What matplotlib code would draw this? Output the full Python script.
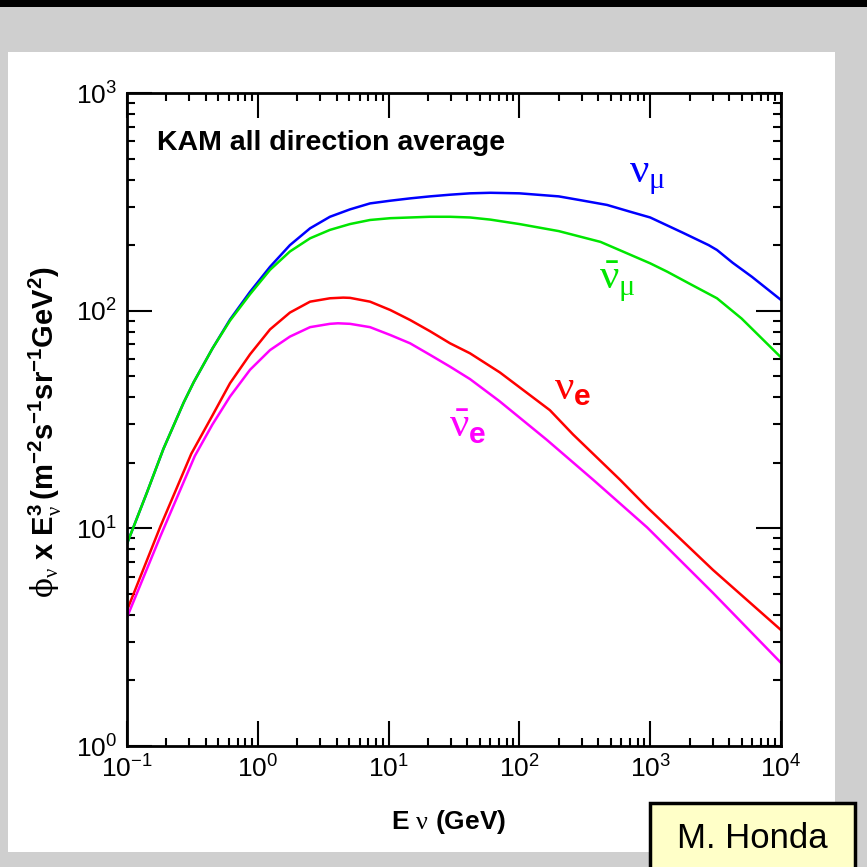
"""
Flujo de neutrinos atmosféricos (KAM, promedio en todas direcciones) - M. Honda
"""
#-->Importar librerías
import math
import matplotlib
matplotlib.use("Agg")
import matplotlib.pyplot as plt
from matplotlib.patches import Rectangle
from matplotlib.ticker import LogLocator, FuncFormatter, NullFormatter

#-->Fuentes
plt.rcParams["font.family"] = ["Liberation Sans", "DejaVu Sans"]
plt.rcParams["mathtext.fontset"] = "custom"
plt.rcParams["mathtext.rm"] = "Liberation Sans"
plt.rcParams["mathtext.it"] = "Liberation Sans:italic"
plt.rcParams["mathtext.bf"] = "Liberation Sans:bold"
plt.rcParams["mathtext.sf"] = "Liberation Serif"
plt.rcParams["mathtext.tt"] = "DejaVu Serif"

#-->Datos (E en GeV, flujo x E^3)
e_numu = [0.1, 0.142, 0.19, 0.271, 0.324, 0.45, 0.613, 0.872, 1.24, 1.76, 2.51,
          3.56, 5.07, 7.21, 10.3, 14.6, 20.7, 29.5, 41.9, 60, 100, 200, 300, 468,
          700, 1000, 1778, 2800, 3240, 4270, 6000, 10000]
flux_numu = [8.5, 14.6, 23.2, 37.8, 47, 67, 91, 122, 159, 200, 239,
             270, 292, 311, 320, 328, 335, 341, 346, 348, 346, 335, 321, 306,
             285, 268, 228, 200, 190, 166, 143, 112]

e_numubar = [0.1, 0.142, 0.19, 0.271, 0.324, 0.45, 0.613, 0.872, 1.24, 1.76, 2.51,
             3.56, 5.07, 7.21, 10.3, 14.6, 20.7, 29.5, 41.9, 60, 100, 200, 417,
             700, 1000, 1350, 2000, 3240, 5000, 10000]
flux_numubar = [8.5, 14.6, 23.2, 37.8, 47, 67, 90, 119, 154, 187, 215,
                235, 250, 261, 266, 268, 270, 270, 268, 262, 250, 232, 207,
                181, 165, 151, 133, 114, 92, 61]

e_nue = [0.1, 0.18, 0.31, 0.45, 0.613, 0.872, 1.24, 1.76, 2.51, 3.56, 4.5, 5.07,
         7.21, 10.3, 14.6, 20.7, 29.5, 41.9, 71, 171, 257, 589, 947, 3020, 10000]
flux_nue = [4.2, 10.2, 22, 33, 46.4, 63, 82, 98, 110, 114, 114.8, 114.5,
            110, 100.7, 90.6, 80.5, 70.8, 63.7, 52, 34.9, 27, 16.7, 12.5, 6.44, 3.41]

e_nuebar = [0.1, 0.18, 0.33, 0.45, 0.613, 0.872, 1.24, 1.76, 2.51, 3.56, 4.1, 5.07,
            7.21, 10.3, 14.6, 20.7, 29.5, 41.9, 70, 162, 367, 947, 3020, 10000]
flux_nuebar = [3.9, 9.2, 21.5, 30, 40.3, 53.5, 65.9, 76, 84, 87, 87.5, 87,
               84, 77.3, 70.8, 62.7, 55.3, 48.5, 38.5, 25.5, 16.7, 10.1, 5.05, 2.41]

#-->Figura y fondo
fig = plt.figure(figsize=(8.67, 8.67), dpi=100, facecolor="#cfcfcf")
fig.patches.append(Rectangle((8 / 867, 1 - 852 / 867), 827 / 867, 800 / 867,
                             transform=fig.transFigure, facecolor="white",
                             edgecolor="none", zorder=-2))
fig.patches.append(Rectangle((0, 1 - 7 / 867), 1, 7 / 867,
                             transform=fig.transFigure, facecolor="black",
                             edgecolor="none", zorder=-2))

ax = fig.add_axes([127 / 867, 1 - 746 / 867, 654 / 867, 653 / 867])
ax.set_xscale("log")
ax.set_yscale("log")
ax.set_xlim(0.1, 1e4)
ax.set_ylim(1, 1e3)

#-->Curvas
lw = 1.8
ax.plot(e_numu, flux_numu, color="#0000ff", lw=lw)
ax.plot(e_numubar, flux_numubar, color="#00e600", lw=lw)
ax.plot(e_nue, flux_nue, color="#ff0000", lw=lw)
ax.plot(e_nuebar, flux_nuebar, color="#ff00ff", lw=lw)

#-->Ejes y ticks
for s in ax.spines.values():
    s.set_linewidth(2)
ax.xaxis.set_major_locator(LogLocator(base=10, numticks=10))
ax.yaxis.set_major_locator(LogLocator(base=10, numticks=10))
ax.xaxis.set_minor_locator(LogLocator(base=10, subs=range(2, 10), numticks=20))
ax.yaxis.set_minor_locator(LogLocator(base=10, subs=range(2, 10), numticks=20))
fmt = FuncFormatter(lambda v, p: r"$\mathregular{10^{%d}}$" % round(math.log10(v)))
ax.xaxis.set_major_formatter(fmt)
ax.yaxis.set_major_formatter(fmt)
ax.xaxis.set_minor_formatter(NullFormatter())
ax.yaxis.set_minor_formatter(NullFormatter())
ax.tick_params(which="both", direction="in", top=True, right=True, width=1.5)
ax.tick_params(which="major", length=18, labelsize=19)
ax.tick_params(which="minor", length=6)
ax.tick_params(axis="x", pad=7)
ax.tick_params(axis="y", pad=7)

#-->Textos
ax.text(0.046, 0.923, "KAM all direction average", transform=ax.transAxes,
        fontsize=20.5, fontweight="bold", ha="left", va="center")
ax.text(944, 411, r"$\mathsf{\nu}_{\mathsf{\mu}}$", color="#0000ff",
        fontsize=31, ha="center", va="center")
ax.text(557, 136, r"$\bar{\mathsf{\nu}}_{\mathsf{\mu}}$", color="#00e600",
        fontsize=31, ha="center", va="center")
ax.text(257, 44, r"$\mathsf{\nu}_{\mathbf{e}}$", color="#ff0000",
        fontsize=31, ha="center", va="center")
ax.text(40.5, 29.5, r"$\bar{\mathsf{\nu}}_{\mathbf{e}}$", color="#ff00ff",
        fontsize=31, ha="center", va="center")

fig.text(45 / 867, 1 - 432 / 867,
         r"$\mathtt{\phi}_{\mathsf{\nu}}\ \mathbf{x\ E}_{\mathsf{\nu}}^{\mathbf{3}}\,"
         r"\mathbf{(m^{-2}s^{-1}sr^{-1}GeV^{2})}$",
         rotation=90, fontsize=21, ha="center", va="center")
fig.text(449 / 867, 1 - 822 / 867,
         r"$\mathbf{E}\ \mathsf{\nu}\ \mathbf{(GeV)}$",
         fontsize=19, ha="center", va="center")

#-->Recuadro "M. Honda"
fig.patches.append(Rectangle((650 / 867, -0.01), 205 / 867, (867 - 803) / 867 + 0.01,
                             transform=fig.transFigure, facecolor="#ffffc8",
                             edgecolor="black", linewidth=2.5, zorder=5))
fig.text(752 / 867, 1 - 838 / 867, "M. Honda", fontsize=25,
         ha="center", va="center", zorder=6)

fig.savefig("out.png", dpi=100, facecolor=fig.get_facecolor())
